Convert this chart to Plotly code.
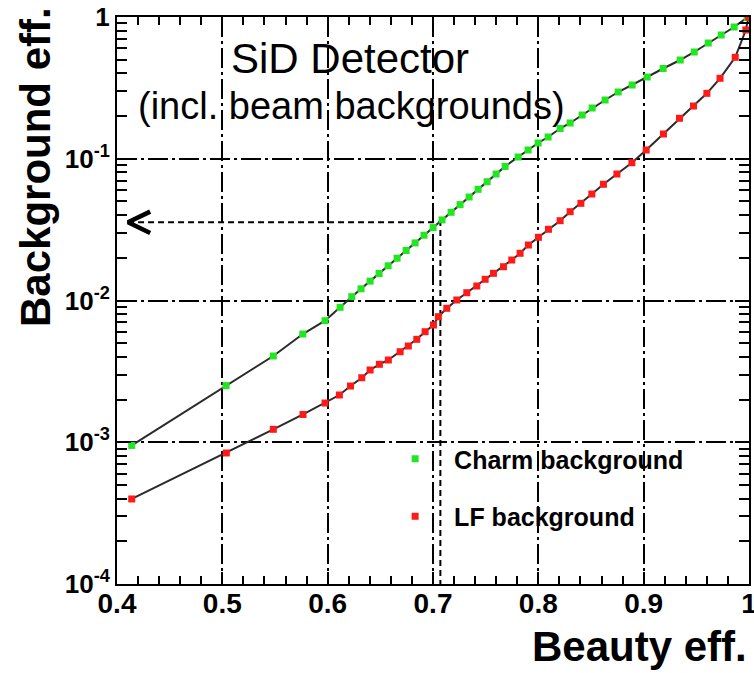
import plotly.graph_objects as go

# ---------------- data ----------------
charm_beauty = [0.414, 0.5035, 0.5484, 0.5764, 0.5975, 0.6118, 0.6229, 0.6317, 0.6403,
                0.6488, 0.6574, 0.6659, 0.6745, 0.6830, 0.6915, 0.7001, 0.7086, 0.7172,
                0.7257, 0.7343, 0.7428, 0.7514, 0.7599, 0.7685, 0.7808, 0.7903, 0.7998,
                0.8093, 0.8207, 0.8302, 0.8416, 0.8511, 0.8634, 0.8758, 0.8891, 0.9033,
                0.9185, 0.9347, 0.9480, 0.9613, 0.9736, 0.9859, 0.9983]
charm_bkg = [9.5e-4, 2.51e-3, 4.06e-3, 5.80e-3, 7.20e-3, 8.95e-3, 1.064e-2, 1.209e-2, 1.370e-2,
             1.551e-2, 1.757e-2, 1.988e-2, 2.253e-2, 2.549e-2, 2.888e-2, 3.268e-2, 3.703e-2, 4.191e-2,
             4.748e-2, 5.372e-2, 6.087e-2, 6.886e-2, 7.802e-2, 8.831e-2, 0.1029, 0.1153, 0.1292,
             0.1424, 0.1634, 0.1788, 0.2035, 0.2280, 0.2597, 0.2957, 0.3313, 0.3773,
             0.4332, 0.4972, 0.5664, 0.6554, 0.7464, 0.8500, 0.992]

lf_beauty = [0.4140, 0.5038, 0.5484, 0.5766, 0.5975, 0.6111, 0.6217, 0.6324, 0.6403, 0.6491,
             0.6576, 0.6688, 0.6766, 0.6846, 0.6925, 0.7004, 0.7051, 0.7131, 0.7226, 0.7321,
             0.7416, 0.7495, 0.7574, 0.7669, 0.7748, 0.7827, 0.7906, 0.8001, 0.8096, 0.8207,
             0.8302, 0.8404, 0.8508, 0.8618, 0.8746, 0.8888, 0.9024, 0.9188, 0.9340, 0.9473,
             0.9600, 0.9725, 0.9869, 0.9970, 0.9995]
lf_bkg = [3.98e-4, 8.40e-4, 1.234e-3, 1.570e-3, 1.891e-3, 2.154e-3, 2.493e-3, 2.852e-3, 3.233e-3, 3.547e-3,
          3.804e-3, 4.352e-3, 4.775e-3, 5.323e-3, 6.024e-3, 6.719e-3, 7.687e-3, 8.810e-3, 1.008e-2, 1.135e-2,
          1.266e-2, 1.411e-2, 1.555e-2, 1.731e-2, 1.930e-2, 2.153e-2, 2.463e-2, 2.791e-2, 3.180e-2, 3.656e-2,
          4.231e-2, 4.849e-2, 5.640e-2, 6.604e-2, 7.804e-2, 9.378e-2, 0.1153, 0.1495, 0.1929, 0.2355,
          0.2894, 0.3694, 0.5196, 0.8097, 1.0]

# working point marked by the dashed lines
wp_beauty = 0.707
wp_bkg = 0.0356
arrow_tip = 0.4105

x_ticks = [0.4, 0.5, 0.6, 0.7, 0.8, 0.9, 1.0]
x_ticktext = ["<b>0.4</b>", "<b>0.5</b>", "<b>0.6</b>", "<b>0.7</b>", "<b>0.8</b>", "<b>0.9</b>", "<b>1</b>"]
y_ticks = [1e-4, 1e-3, 1e-2, 1e-1, 1]
y_ticktext = ["<b>10<sup>-4</sup></b>", "<b>10<sup>-3</sup></b>", "<b>10<sup>-2</sup></b>",
              "<b>10<sup>-1</sup></b>", "<b>1</b>"]
y_minor = [m * 10.0 ** e for e in (-4, -3, -2, -1) for m in range(2, 10)]

FONT = "Liberation Sans, Arial, sans-serif"
GREEN = "#22e622"
RED = "#ff1a1a"
LINE = "#2a2a2a"

fig = go.Figure()

# dashed working-point lines
fig.add_trace(go.Scatter(
    x=[arrow_tip, wp_beauty, wp_beauty], y=[wp_bkg, wp_bkg, 1e-4],
    mode="lines", line=dict(color="black", width=2, dash="6px,4px"),
    showlegend=False, hoverinfo="skip"))
# chevron arrow head
fig.add_trace(go.Scatter(
    x=[arrow_tip + 0.021, arrow_tip, arrow_tip + 0.021],
    y=[wp_bkg * 1.19, wp_bkg, wp_bkg / 1.19],
    mode="lines", line=dict(color="black", width=4.5),
    showlegend=False, hoverinfo="skip"))

fig.add_trace(go.Scatter(
    x=charm_beauty, y=charm_bkg, mode="lines+markers",
    line=dict(color=LINE, width=2),
    marker=dict(symbol="square", size=7, color=GREEN, line=dict(width=0)),
    showlegend=False))
fig.add_trace(go.Scatter(
    x=lf_beauty, y=lf_bkg, mode="lines+markers",
    line=dict(color=LINE, width=2),
    marker=dict(symbol="square", size=7, color=RED, line=dict(width=0)),
    showlegend=False))

# legend entries (markers only)
fig.add_trace(go.Scatter(
    x=[None], y=[None], mode="markers", name="<b>Charm background</b>",
    marker=dict(symbol="square", size=7, color=GREEN), legendgroup="c"))
fig.add_trace(go.Scatter(
    x=[None], y=[None], mode="markers", name="<b>LF background</b>",
    marker=dict(symbol="square", size=7, color=RED), legendgroup="l"))

fig.add_shape(type="rect", xref="paper", yref="paper",
              x0=0.4003, x1=0.935, y0=0.0635, y1=0.2716,
              fillcolor="white", line=dict(width=0), layer="between")

fig.add_annotation(text="SiD Detector", xref="paper", yref="paper",
                   x=0.3687, y=(584 - 58) / 567, xanchor="center", yanchor="middle",
                   showarrow=False, font=dict(family=FONT, size=42, color="black"))
fig.add_annotation(text="(incl. beam backgrounds)", xref="paper", yref="paper",
                   x=0.3703, y=(584 - 106) / 567, xanchor="center", yanchor="middle",
                   showarrow=False, font=dict(family=FONT, size=38, color="black"))
fig.add_annotation(text="<b>Beauty eff.</b>", xref="paper", yref="paper",
                   x=1.0, y=-(672 - 584) / 567, xanchor="right", yanchor="bottom",
                   showarrow=False, font=dict(family=FONT, size=42, color="black"))
fig.add_annotation(text="<b>Background eff.</b>", xref="paper", yref="paper",
                   x=(35 - 117) / 632, y=(584 - 167) / 567, xanchor="center", yanchor="middle",
                   textangle=-90, showarrow=False,
                   font=dict(family=FONT, size=42, color="black"))

fig.update_layout(
    width=754, height=673,
    margin=dict(l=117, r=5, t=17, b=89, autoexpand=False),
    paper_bgcolor="white", plot_bgcolor="white",
    font=dict(family=FONT, color="black"),
    showlegend=True,
    legend=dict(x=0.41, y=0.261, xanchor="left", yanchor="top",
                bgcolor="rgba(0,0,0,0)", borderwidth=0, itemwidth=68,
                font=dict(family=FONT, size=25, color="black"),
                traceorder="grouped", tracegroupgap=22),
    xaxis=dict(range=[0.4, 1.0], tickmode="array", tickvals=x_ticks, ticktext=x_ticktext,
               ticks="inside", ticklen=12, tickwidth=2, tickcolor="black",
               showline=True, linewidth=2, linecolor="black", mirror="allticks",
               showgrid=True, gridcolor="black", gridwidth=2, griddash="20px,4px,3px,4px",
               zeroline=False, ticklabeloverflow="allow", ticklabelstandoff=-7,
               automargin=False,
               tickfont=dict(family=FONT, size=28, color="black"),
               minor=dict(dtick=0.02, ticks="inside", ticklen=8, tickwidth=2,
                          tickcolor="black", showgrid=False)),
    yaxis=dict(type="log", range=[-4, 0], tickmode="array", tickvals=y_ticks, ticktext=y_ticktext,
               ticks="inside", ticklen=14, tickwidth=2, tickcolor="black",
               showline=True, linewidth=2, linecolor="black", mirror="allticks",
               showgrid=True, gridcolor="black", gridwidth=2, griddash="20px,4px,3px,4px",
               zeroline=False, ticklabeloverflow="allow", automargin=False,
               tickfont=dict(family=FONT, size=26, color="black"),
               minor=dict(tickmode="array", tickvals=y_minor, ticks="inside", ticklen=10,
                          tickwidth=2, tickcolor="black", showgrid=False)),
)

fig.write_html("out.html")
